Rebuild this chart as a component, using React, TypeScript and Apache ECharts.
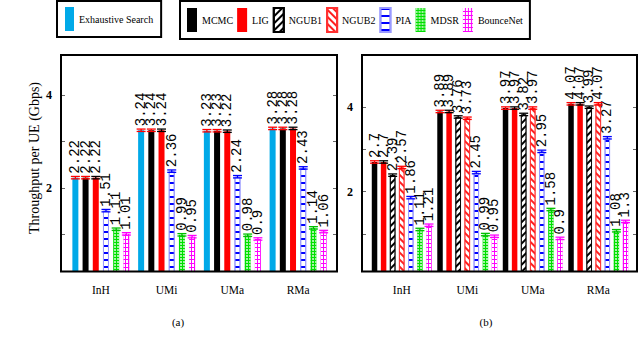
import React, { useEffect, useRef } from 'react';
import * as echarts from 'echarts';

// ---------- data ----------
const categories = ['InH', 'UMi', 'UMa', 'RMa'];

// panel (a)
const exhaustiveA = [2.22, 3.24, 3.23, 3.28];
const mcmcA = [2.22, 3.24, 3.23, 3.28];
const ligA = [2.22, 3.24, 3.22, 3.28];
const piaA = [1.51, 2.36, 2.24, 2.43];
const mdsrA = [1.11, 0.99, 0.98, 1.14];
const bounceA = [1.01, 0.95, 0.9, 1.06];

// panel (b)
const mcmcB = [2.7, 3.89, 3.97, 4.07];
const ligB = [2.7, 3.89, 3.97, 4.07];
const ngub1B = [2.39, 3.76, 3.82, 3.99];
const ngub2B = [2.57, 3.73, 3.97, 4.07];
const piaB = [1.86, 2.45, 2.95, 3.27];
const mdsrB = [1.11, 0.99, 1.58, 1.08];
const bounceB = [1.21, 0.95, 0.9, 1.3];

const yTicks = [1, 2, 3, 4];
const yLabels = [2, 4];

const panelA: [string, number[]][] = [
  ['Exhaustive Search', exhaustiveA],
  ['MCMC', mcmcA],
  ['LIG', ligA],
  ['PIA', piaA],
  ['MDSR', mdsrA],
  ['BounceNet', bounceA],
];
const panelB: [string, number[]][] = [
  ['MCMC', mcmcB],
  ['LIG', ligB],
  ['NGUB1', ngub1B],
  ['NGUB2', ngub2B],
  ['PIA', piaB],
  ['MDSR', mdsrB],
  ['BounceNet', bounceB],
];

// ---------- styles ----------
const styles: Record<string, any> = {
  'Exhaustive Search': { color: '#00a9e8' },
  MCMC: { color: '#000000' },
  LIG: { color: '#ff0000' },
  NGUB1: {
    color: '#ffffff', borderColor: '#000000', borderWidth: 0.8,
    decal: { symbol: 'rect', color: '#000000', dashArrayX: [1, 0], dashArrayY: [2, 3], rotation: -Math.PI / 4, symbolSize: 1 },
  },
  NGUB2: {
    color: '#ffffff', borderColor: '#ff3030', borderWidth: 0.8,
    decal: { symbol: 'rect', color: '#ff2020', dashArrayX: [1, 0], dashArrayY: [2, 3], rotation: Math.PI / 4, symbolSize: 1 },
  },
  PIA: {
    color: '#ffffff', borderColor: '#9a9aff', borderWidth: 1,
    decal: { symbol: 'rect', color: '#0000ff', dashArrayX: [1, 0], dashArrayY: [2, 5], rotation: 0, symbolSize: 1 },
  },
  MDSR: {
    color: '#00e000',
    decal: { symbol: 'circle', color: '#ffffff', dashArrayX: [2, 1], dashArrayY: [2, 1], rotation: 0, symbolSize: 0.8 },
  },
  BounceNet: {
    color: '#ff00ff',
    decal: { symbol: 'rect', color: '#ffffff', dashArrayX: [2, 1], dashArrayY: [3, 1], rotation: 0, symbolSize: 1 },
  },
};
const capColors: Record<string, string> = {
  'Exhaustive Search': '#ff0000', MCMC: '#ff0000', LIG: '#000000', NGUB1: '#000000', NGUB2: '#ff0000',
  PIA: '#0000ff', MDSR: '#00c000', BounceNet: '#ff00ff',
};

const serif = 'Liberation Serif';
const mono = 'Liberation Mono';

function makeCaps(panel: [string, number[]][], pitch: number) {
  const n = panel.length;
  const colors = panel.map(p => capColors[p[0]]);
  return (params: any, api: any) => {
    const cat = api.value(0);
    const val = api.value(1);
    const idx = api.value(2);
    const p = api.coord([cat, val]);
    const x = p[0] + (idx - (n - 1) / 2) * pitch;
    const y = p[1];
    const hw = 4.5, hh = 1.2;
    const c = colors[idx];
    const st = { stroke: c, lineWidth: 1.3 };
    return {
      type: 'group',
      children: [
        { type: 'line', shape: { x1: x - hw, y1: y - hh, x2: x + hw, y2: y - hh }, style: st },
        { type: 'line', shape: { x1: x - hw, y1: y + hh, x2: x + hw, y2: y + hh }, style: st },
        { type: 'line', shape: { x1: x, y1: y - hh, x2: x, y2: y + hh }, style: st },
      ],
    };
  };
}

function barSeries(panel: [string, number[]][], gi: number, yi: number, bw: number, gap: string) {
  return panel.map(([name, vals]) => ({
    type: 'bar',
    name,
    xAxisIndex: gi,
    yAxisIndex: yi,
    data: vals,
    barWidth: bw,
    barGap: gap,
    itemStyle: styles[name],
    label: {
      show: true,
      position: 'top',
      distance: 4,
      rotate: 90,
      align: 'left',
      verticalAlign: 'middle',
      fontFamily: mono,
      fontSize: 14,
      color: '#000',
    },
    emphasis: { disabled: true },
    z: 2,
  }));
}

function capSeries(panel: [string, number[]][], gi: number, yi: number, pitch: number) {
  const data: number[][] = [];
  panel.forEach(([, vals], i) => vals.forEach((v, j) => data.push([j, v, i])));
  return {
    type: 'custom',
    name: 'caps' + gi,
    xAxisIndex: gi,
    yAxisIndex: yi,
    data,
    renderItem: makeCaps(panel, pitch),
    z: 3,
    silent: true,
  };
}

function yAxes(gi: number, min: number, max: number, offL: number, offR: number) {
  const tick = { show: true, inside: true, length: 4, customValues: yTicks, lineStyle: { color: '#666', width: 1 } };
  return [
    {
      type: 'value', gridIndex: gi, min, max, position: 'left', offset: offL,
      splitLine: { show: false }, axisLine: { show: false }, axisTick: tick,
      axisLabel: { customValues: yLabels, fontFamily: serif, fontWeight: 'bold', fontSize: 12, color: '#000', margin: 9 },
    },
    {
      type: 'value', gridIndex: gi, min, max, position: 'right', offset: offR,
      splitLine: { show: false }, axisLine: { show: false }, axisTick: tick,
      axisLabel: { show: false },
    },
  ];
}

function xAxis(gi: number) {
  return {
    type: 'category', gridIndex: gi, data: categories,
    axisLine: { show: false }, axisTick: { show: false },
    axisLabel: { fontFamily: serif, fontSize: 11.5, color: '#000', margin: 12 },
  };
}

export default function App() {
  const ref = useRef<HTMLDivElement>(null);
  useEffect(() => {
    if (!ref.current) return;
    const chart = echarts.init(ref.current, undefined, { renderer: 'svg' });
    const pitchA = 6 * 1.7;
    const pitchB = 5.5 * 1.65;
    chart.setOption({
      animation: false,
      backgroundColor: '#ffffff',
      legend: [
        {
          data: ['Exhaustive Search'],
          left: 57, top: 1,
          padding: [6, 8, 6, 8],
          borderColor: '#000', borderWidth: 2,
          itemWidth: 9, itemHeight: 24, itemGap: 4, icon: 'rect',
          textStyle: { fontFamily: serif, fontSize: 10, color: '#000' },
          selectedMode: false,
        },
        {
          data: ['MCMC', 'LIG', 'NGUB1', 'NGUB2', 'PIA', 'MDSR', 'BounceNet'],
          left: 180, top: 1,
          padding: [6, 7, 6, 7],
          borderColor: '#000', borderWidth: 2,
          itemWidth: 10, itemHeight: 24, itemGap: 4, icon: 'rect',
          textStyle: { fontFamily: serif, fontSize: 10, color: '#000' },
          selectedMode: false,
        },
      ],
      grid: [
        { left: 68, top: 55, width: 263, height: 216.5 },
        { left: 369, top: 55, width: 262, height: 216.5 },
      ],
      xAxis: [xAxis(0), xAxis(1)],
      yAxis: [...yAxes(0, 0.2, 4.86, 7, 6), ...yAxes(1, 0.12, 5.22, 7, 6)],
      series: [
        ...barSeries(panelA, 0, 0, 6, '70%'),
        ...barSeries(panelB, 1, 2, 5.5, '65%'),
        capSeries(panelA, 0, 0, pitchA),
        capSeries(panelB, 1, 2, pitchB),
      ],
      graphic: [
        { type: 'rect', shape: { x: 61, y: 55, width: 276, height: 216.5 }, style: { fill: 'none', stroke: '#000', lineWidth: 2 }, z: 10, silent: true },
        { type: 'rect', shape: { x: 362, y: 55, width: 275, height: 216.5 }, style: { fill: 'none', stroke: '#000', lineWidth: 2 }, z: 10, silent: true },
        {
          type: 'text', x: 34, y: 158, rotation: Math.PI / 2,
          style: { text: 'Throughput per UE (Gbps)', fontFamily: serif, fontSize: 14, fill: '#000', align: 'center', verticalAlign: 'middle' },
        },
        { type: 'text', x: 178, y: 322, style: { text: '(a)', fontFamily: serif, fontSize: 11, fill: '#000', align: 'center', verticalAlign: 'middle' } },
        { type: 'text', x: 486, y: 322, style: { text: '(b)', fontFamily: serif, fontSize: 11, fill: '#000', align: 'center', verticalAlign: 'middle' } },
      ],
    });
    return () => chart.dispose();
  }, []);
  return <div ref={ref} style={{ position: 'fixed', left: 0, top: 0, width: 640, height: 358 }} />;
}
